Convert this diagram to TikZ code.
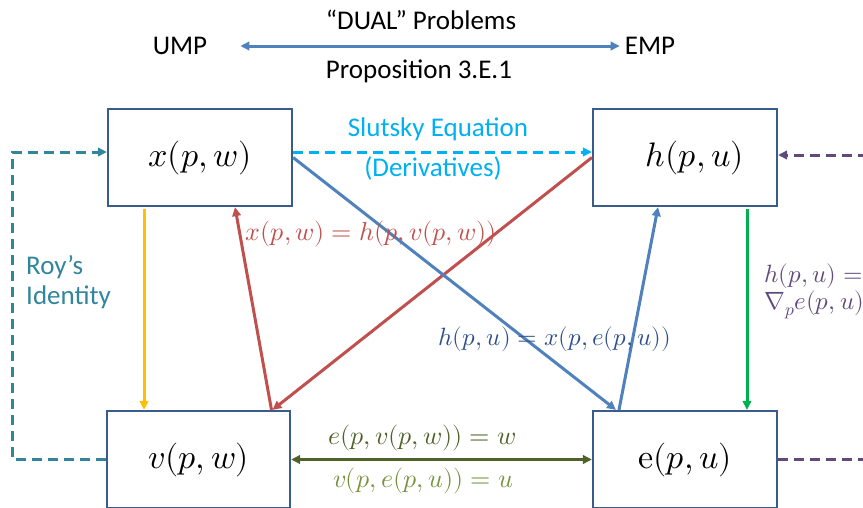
\documentclass[tikz,border=0pt]{standalone}
\usepackage{fontspec}
\usepackage{unicode-math}
\setmainfont{Carlito}
\setmathfont{Latin Modern Math}
\usetikzlibrary{arrows.meta}
\definecolor{boxblue}{HTML}{385D8A}
\definecolor{acblue}{HTML}{4F81BD}
\definecolor{acred}{HTML}{C0504D}
\definecolor{acyel}{HTML}{FFC000}
\definecolor{acgreen}{HTML}{00B050}
\definecolor{olive}{HTML}{4F6228}
\definecolor{lgreen}{HTML}{77933C}
\definecolor{purp}{HTML}{604A7B}
\definecolor{teal}{HTML}{31859C}
\definecolor{cyan}{HTML}{00B0F0}
\definecolor{dblue}{HTML}{2C4F8C}
\begin{document}
\begin{tikzpicture}[x=1pt,y=-1pt,
  box/.style={draw=boxblue, line width=2.2pt, minimum width=184pt, minimum height=97pt, inner sep=0pt, font=\fontsize{34}{38}\selectfont},
  sans/.style={font=\fontsize{27}{30}\selectfont, inner sep=0pt},
  lab/.style={font=\fontsize{26}{29}\selectfont, inner sep=0pt},
  tip/.style={-{Triangle[length=9pt,width=8.5pt]}},
  conn/.style={line width=3pt, tip},
  dsh/.style={line width=3pt, dash pattern=on 10pt off 6pt},
]
\useasboundingbox (0,0) rectangle (863,507);
% boxes
\node[box] (x) at (200,157.5) {$x(p,w)$};
\node[box] (h) at (685,157.5) {\hspace*{20pt}$h(p,u)$};
\node[box, minimum width=183pt] (v) at (198.5,459.5) {\raisebox{-3pt}{$v(p,w)$}};
\node[box] (e) at (685,459.5) {\raisebox{-3pt}{$\symup{e}(p,u)$}};
% top
\node[sans] (ump) at (180,46) {UMP};
\node[sans] (emp) at (650,46) {EMP};
\node[sans] (dual) at (421,20) {“DUAL” Problems};
\node[sans] (prop) at (419,71) {Proposition 3.E.1};
\draw[acblue, line width=3pt, {Triangle[length=9pt,width=8.5pt]}-{Triangle[length=9pt,width=8.5pt]}]
  ([xshift=33pt]ump.east) -- ([xshift=-5pt]emp.west);
% Slutsky
\draw[cyan, dsh, tip] ([yshift=5.5pt]x.east) -- ([yshift=5.5pt]h.west);
\node[sans, text=cyan] (slut) at (438,129) {Slutsky Equation};
\node[sans, text=cyan] (deriv) at (433,168) {(Derivatives)};
% Roy's identity
\draw[teal, dsh, tip] (v.west) -- ++(-93,0) |- ([yshift=5.5pt]x.west);
\node[sans, text=teal, anchor=west, align=left, font=\fontsize{27}{30}\selectfont] (roy) at (26,282) {Roy’s\\Identity};
% purple
\coordinate (pr) at (895,300);
\draw[purp, dsh, tip] (e.east) -- (e.east -| pr) -- ([yshift=2.5pt]h.east -| pr) -- ([yshift=2.5pt]h.east);
\node[text=purp, anchor=west, align=left, inner sep=0pt, font=\fontsize{25}{27}\selectfont] (hgrad) at (764,291) {$h(p,u) =$\\$\nabla_{p} e(p,u)$};
% vertical
\draw[acyel, conn, shorten <=2pt] ([xshift=-56pt]x.south) -- ([xshift=-54.5pt]v.north);
\draw[acgreen, conn, shorten <=2pt] ([xshift=62pt]h.south) -- ([xshift=62pt]e.north);
% red
\draw[acred, conn] ([xshift=73pt]v.north) -- ([xshift=35pt]x.south);
\draw[acred, conn] (h.west) -- ([xshift=74pt]v.north);
% blue
\draw[acblue, conn] (x.east) -- ([xshift=-69pt]e.north);
\draw[acblue, conn] ([xshift=-66pt]e.north) -- ([xshift=-27pt]h.south);
% bottom double
\draw[olive, line width=3pt, {Triangle[length=9pt,width=8.5pt]}-{Triangle[length=9pt,width=8.5pt]}] (v.east) -- (e.west);
% labels
\node[lab, text=acred] (lred) at (371,234) {$x(p,w) = h(p,v(p,w))$};
\node[lab, text=dblue, font=\fontsize{25}{28}\selectfont] (lblue) at (555,339) {$h(p,u) = x(p,e(p,u))$};
\node[lab, text=olive] (lol) at (422,438) {$e(p,v(p,w)) = w$};
\node[lab, text=lgreen] (llg) at (423,481) {$v(p,e(p,u)) = u$};
\end{tikzpicture}
\end{document}
